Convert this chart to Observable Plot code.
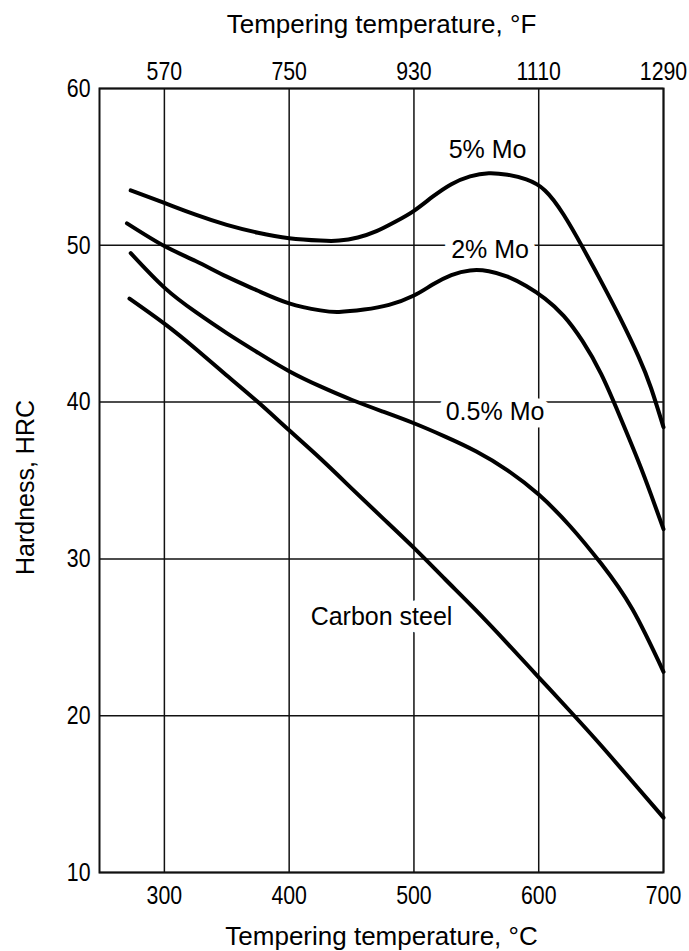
<!DOCTYPE html>
<html>
<head>
<meta charset="utf-8">
<script src="https://cdn.jsdelivr.net/npm/d3@7"></script>
<script src="https://cdn.jsdelivr.net/npm/@observablehq/plot@0.6"></script>
<style>
  html, body { margin: 0; padding: 0; background: #fff; }
  #chart svg { display: block; }
</style>
</head>
<body>
<div id="chart"></div>
<script>
// Axis ticks
const celsiusTicks = [300, 400, 500, 600, 700];
const fahrenheitLabels = ["570", "750", "930", "1110", "1290"];
const hrcTicks = [10, 20, 30, 40, 50, 60];

// Series: tempering temperature (°C) and hardness (HRC)
const tempMo5 = [273, 300, 325, 350, 375, 400, 425, 440, 455, 470, 485, 500, 515, 530, 545, 560, 575, 590, 605, 620, 635, 650, 665, 680, 690, 700];
const hrcMo5  = [53.5, 52.7, 51.95, 51.3, 50.8, 50.45, 50.3, 50.3, 50.5, 50.9, 51.5, 52.2, 53.1, 53.9, 54.4, 54.6, 54.5, 54.2, 53.5, 51.95, 49.9, 47.7, 45.4, 42.9, 40.9, 38.4];

const tempMo2 = [270, 300, 325, 350, 375, 400, 425, 440, 460, 480, 500, 515, 530, 545, 560, 575, 590, 605, 620, 635, 650, 665, 680, 690, 700];
const hrcMo2  = [51.4, 49.95, 49.0, 48.0, 47.1, 46.3, 45.85, 45.75, 45.9, 46.2, 46.8, 47.5, 48.1, 48.4, 48.35, 48.0, 47.4, 46.6, 45.5, 43.9, 41.8, 39.1, 36.2, 34.1, 31.9];

const tempMo05 = [273, 300, 325, 350, 375, 400, 425, 450, 475, 500, 525, 550, 575, 600, 625, 650, 675, 700];
const hrcMo05  = [49.5, 47.3, 45.75, 44.4, 43.15, 41.97, 41.0, 40.15, 39.4, 38.65, 37.8, 36.85, 35.65, 34.1, 32.1, 29.7, 26.8, 22.8];

const tempCarbon = [272, 300, 325, 350, 375, 400, 425, 450, 475, 500, 525, 550, 575, 600, 625, 650, 675, 700];
const hrcCarbon  = [46.6, 45.0, 43.4, 41.7, 40.0, 38.2, 36.4, 34.5, 32.6, 30.7, 28.7, 26.7, 24.6, 22.45, 20.3, 18.1, 15.8, 13.5];

const seriesNames = ["5% Mo", "2% Mo", "0.5% Mo", "Carbon steel"];
const seriesTemps = [tempMo5, tempMo2, tempMo05, tempCarbon];
const seriesHrc = [hrcMo5, hrcMo2, hrcMo05, hrcCarbon];

// Label anchor points (°C, HRC)
const labelTemp = [559, 561, 565, 474];
const labelHrc = [56.05, 49.7, 39.4, 26.3];

const titleTop = "Tempering temperature, °F";
const titleBottom = "Tempering temperature, °C";
const titleY = "Hardness, HRC";

const rows = seriesNames.flatMap((name, s) =>
  seriesTemps[s].map((t, i) => ({ series: name, temp: t, hrc: seriesHrc[s][i] })));
const labels = seriesNames.map((name, i) => ({ name, temp: labelTemp[i], hrc: labelHrc[i] }));

const regular = "'Liberation Sans', Arial, Helvetica, sans-serif";

const chart = Plot.plot({
  width: 689,
  height: 951,
  marginLeft: 99,
  marginRight: 26,
  marginTop: 88,
  marginBottom: 79,
  x: { domain: [248, 700] },
  y: { domain: [10, 60] },
  style: { background: "white", color: "black", fontFamily: regular },
  marks: [
    Plot.gridX(celsiusTicks, { stroke: "#111", strokeOpacity: 1, strokeWidth: 1.5 }),
    Plot.gridY(hrcTicks, { stroke: "#111", strokeOpacity: 1, strokeWidth: 1.5 }),
    Plot.frame({ stroke: "#111", strokeWidth: 2 }),
    Plot.axisX(celsiusTicks, { anchor: "bottom", tickSize: 0, tickPadding: 13, fontSize: 26, label: null }),
    Plot.axisX(celsiusTicks, { anchor: "top", tickSize: 0, tickPadding: 9, fontSize: 26, label: null,
      tickFormat: (d) => fahrenheitLabels[celsiusTicks.indexOf(d)] }),
    Plot.axisY(hrcTicks, { anchor: "left", tickSize: 0, tickPadding: 9, fontSize: 26, label: null }),
    Plot.line(rows, { x: "temp", y: "hrc", z: "series", curve: "natural", stroke: "black", strokeWidth: 4 }),
    Plot.text(labels, { x: "temp", y: "hrc", text: "name", fontSize: 25, fill: "black",
      stroke: "white", strokeWidth: 15, letterSpacing: 1 }),
    Plot.text([titleTop], { frameAnchor: "top", textAnchor: "middle", lineAnchor: "middle", dy: -64,
      text: (d) => d, fontSize: 26, letterSpacing: 1.2, fill: "black" }),
    Plot.text([titleBottom], { frameAnchor: "bottom", textAnchor: "middle", lineAnchor: "middle", dy: 64,
      text: (d) => d, fontSize: 26, letterSpacing: 1.2, fill: "black" }),
    Plot.text([titleY], { frameAnchor: "left", textAnchor: "middle", lineAnchor: "middle", dx: -74, dy: 7,
      rotate: -90, text: (d) => d, fontSize: 25, letterSpacing: 1, fill: "black" })
  ]
});

// Condense the tick numerals horizontally, like the reference's narrow typeface
chart.querySelectorAll('g[aria-label$="tick label"] text').forEach((el) => {
  const t = el.getAttribute("transform");
  if (t) el.setAttribute("transform", `${t} scale(0.82,1)`);
});

document.getElementById("chart").append(chart);
</script>
</body>
</html>
